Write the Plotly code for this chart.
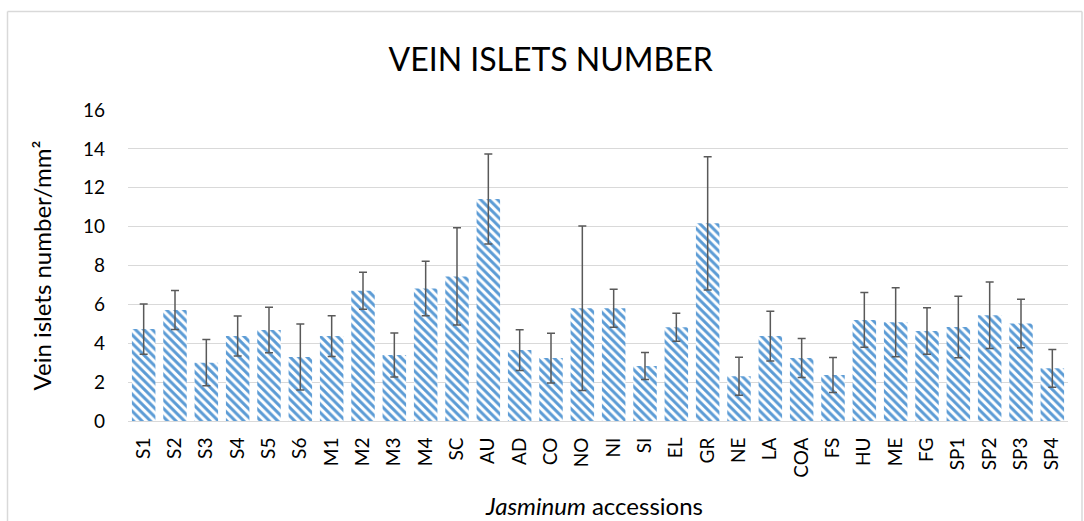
import plotly.graph_objects as go

categories = ["S1", "S2", "S3", "S4", "S5", "S6", "M1", "M2", "M3", "M4", "SC", "AU",
              "AD", "CO", "NO", "NI", "SI", "EL", "GR", "NE", "LA", "COA", "FS", "HU",
              "ME", "FG", "SP1", "SP2", "SP3", "SP4"]
means = [4.73, 5.71, 3.00, 4.37, 4.68, 3.29, 4.37, 6.70, 3.40, 6.82, 7.44, 11.42,
         3.65, 3.24, 5.80, 5.80, 2.83, 4.82, 10.17, 2.30, 4.37, 3.24, 2.37, 5.20,
         5.08, 4.63, 4.84, 5.44, 5.02, 2.71]
errors = [1.29, 1.00, 1.19, 1.03, 1.17, 1.70, 1.05, 0.95, 1.13, 1.40, 2.50, 2.32,
          1.05, 1.28, 4.23, 0.98, 0.70, 0.72, 3.43, 0.98, 1.28, 1.00, 0.90, 1.41,
          1.77, 1.20, 1.58, 1.71, 1.25, 0.97]
y_ticks = [0, 2, 4, 6, 8, 10, 12, 14, 16]

FONT = "Lato, 'Open Sans', sans-serif"

fig = go.Figure()
fig.add_trace(go.Bar(
    x=categories, y=means,
    marker=dict(color="white",
                line=dict(width=0),
                pattern=dict(shape="\\", fgcolor="#5B9BD5", bgcolor="white",
                             size=6, solidity=0.5, fillmode="replace", fgopacity=1)),
    error_y=dict(type="data", array=errors, visible=True,
                 color="#595959", thickness=1.5, width=4),
))

fig.update_layout(
    width=1084, height=521,
    paper_bgcolor="white", plot_bgcolor="white",
    margin=dict(l=128, r=16, t=110, b=100),
    bargap=0.25,
    showlegend=False,
    font=dict(family=FONT, color="#000000", size=19),
    title=dict(text="VEIN ISLETS NUMBER", x=0.508, xanchor="center",
               y=1 - 60 / 521, yanchor="middle",
               font=dict(family=FONT, size=32, color="#000000")),
    xaxis=dict(tickangle=-90, tickfont=dict(size=19, family=FONT),
               showline=True, linecolor="#d9d9d9", linewidth=1,
               ticks="", showgrid=False, ticklabelstandoff=8),
    yaxis=dict(range=[0, 16], tickvals=y_ticks, tickfont=dict(size=19, family=FONT),
               showgrid=True, gridcolor="#d9d9d9", gridwidth=1,
               zeroline=True, zerolinecolor="#d9d9d9", zerolinewidth=1,
               showline=False, ticks="", ticklabelstandoff=22,
               title=dict(text="Vein islets number/mm²", font=dict(size=24, family=FONT),
                          standoff=24)),
    annotations=[dict(text="<i>Jasminum</i> accessions", xref="paper", yref="paper",
                      x=(594 - 128) / 940, y=(421 - 505) / 311, xanchor="center", yanchor="middle",
                      showarrow=False, font=dict(size=24, family=FONT, color="#000000"))],
    shapes=[
        dict(type="line", xref="paper", yref="paper", x0=(7.5 - 128) / 940, x1=(7.5 - 128) / 940,
             y0=(421 - 11.5) / 311, y1=(421 - 540) / 311, line=dict(color="#d9d9d9", width=1.5)),
        dict(type="line", xref="paper", yref="paper", x0=(7.5 - 128) / 940, x1=(1082 - 128) / 940,
             y0=(421 - 11.5) / 311, y1=(421 - 11.5) / 311, line=dict(color="#d9d9d9", width=1.5)),
        dict(type="line", xref="paper", yref="paper", x0=(1082 - 128) / 940, x1=(1082 - 128) / 940,
             y0=(421 - 11.5) / 311, y1=(421 - 540) / 311, line=dict(color="#d9d9d9", width=1.5)),
    ],
)

fig.write_html("out.html", config={"displayModeBar": False},
               post_script="document.body.style.margin='0';document.body.style.overflow='hidden';")
